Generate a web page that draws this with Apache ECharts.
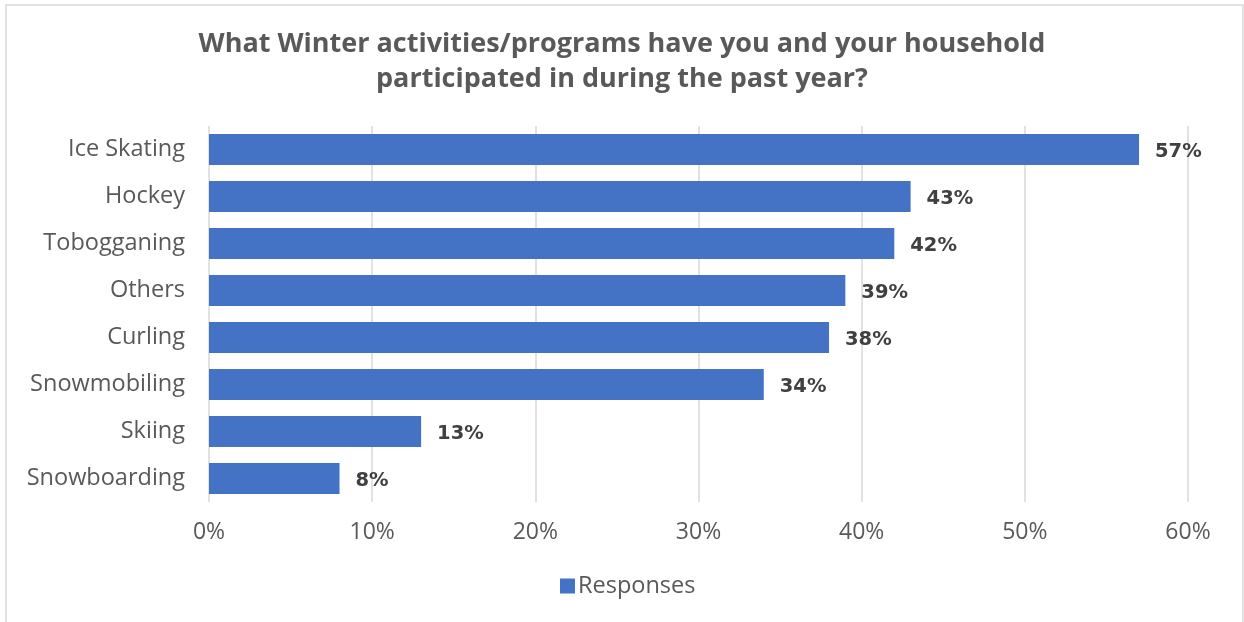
<!DOCTYPE html>
<html>
<head>
<meta charset="utf-8">
<title>Winter activities</title>
<script src="https://cdn.jsdelivr.net/npm/echarts@6/dist/echarts.min.js"></script>
<style>
  html, body { margin: 0; padding: 0; background: #ffffff; }
  #chart { width: 1244px; height: 622px; }
</style>
</head>
<body>
<div id="chart"></div>
<script>
// Survey answers, share of households (percent)
const activities = ['Ice Skating', 'Hockey', 'Tobogganing', 'Others', 'Curling', 'Snowmobiling', 'Skiing', 'Snowboarding'];
const responses = [57, 43, 42, 39, 38, 34, 13, 8];
const axisTicks = [0, 10, 20, 30, 40, 50, 60];
const seriesName = 'Responses';
const titleLines = ['What Winter activities/programs have you and your household', 'participated in during the past year?'];

const chart = echarts.init(document.getElementById('chart'), null, { renderer: 'canvas' });

const labelFont = 'Open Sans';

const option = {
  backgroundColor: '#ffffff',
  animation: false,
  title: {
    text: titleLines.join('\n'),
    left: 'center',
    top: 22,
    textStyle: {
      fontFamily: 'Open Sans',
      fontWeight: 'bold',
      fontSize: 27,
      lineHeight: 35,
      color: '#595959'
    }
  },
  graphic: [{
    type: 'rect',
    silent: true,
    shape: { x: 6, y: 5, width: 1237, height: 700 },
    style: { fill: 'none', stroke: '#d9d9d9', lineWidth: 1.5 }
  }],
  legend: {
    bottom: 19,
    left: 555,
    icon: 'rect',
    itemWidth: 15,
    itemHeight: 15,
    itemGap: 6,
    textStyle: { fontFamily: labelFont, fontSize: 23.5, color: '#595959', padding: [0, 0, 0, -2] },
    data: [seriesName]
  },
  grid: { left: 209, right: 56, top: 126, bottom: 120, containLabel: false },
  xAxis: {
    type: 'value',
    min: axisTicks[0],
    max: axisTicks[axisTicks.length - 1],
    interval: axisTicks[1] - axisTicks[0],
    axisLine: { show: false },
    axisTick: { show: false },
    splitLine: { show: true, lineStyle: { color: '#d9d9d9', width: 1.5 } },
    axisLabel: {
      margin: 19,
      fontFamily: labelFont,
      fontSize: 23,
      color: '#595959',
      formatter: v => v + '%'
    }
  },
  yAxis: {
    type: 'category',
    inverse: true,
    data: activities,
    axisLine: { show: false },
    axisTick: { show: false },
    axisLabel: {
      margin: 24,
      fontFamily: labelFont,
      fontSize: 23.5,
      color: '#595959',
      padding: [5, 0, 0, 0]
    }
  },
  series: [{
    name: seriesName,
    type: 'bar',
    data: responses,
    barCategoryGap: '34%',
    itemStyle: { color: '#4472C4' },
    label: {
      show: true,
      position: 'right',
      distance: 16,
      offset: [0, 2],
      fontFamily: 'DejaVu Sans',
      fontWeight: 'bold',
      fontSize: 19.5,
      color: '#404040',
      formatter: p => p.value + '%'
    }
  }]
};

chart.setOption(option);
</script>
</body>
</html>
